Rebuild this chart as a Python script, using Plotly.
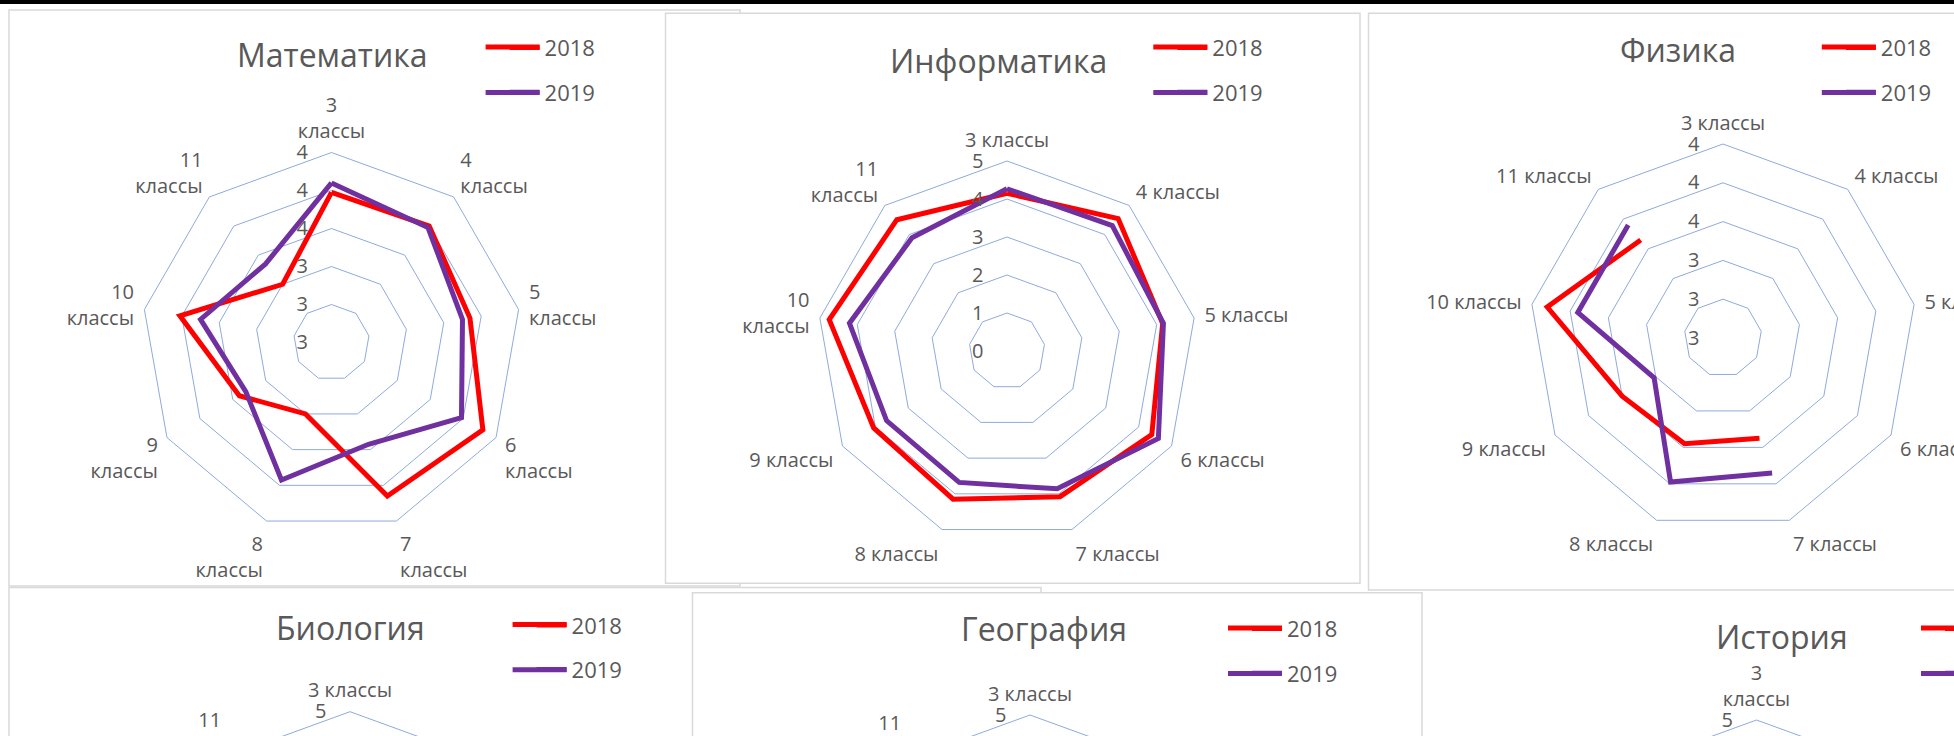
import plotly.graph_objects as go

# ---------------- data ----------------
categories = ["3 классы", "4 классы", "5 классы", "6 классы", "7 классы",
              "8 классы", "9 классы", "10 классы", "11 классы"]
years = ["2018", "2019"]
subjects = ["Математика", "Информатика", "Физика", "Биология", "География", "История"]

math_2018 = [3.79, 3.80, 3.74, 3.92, 3.86, 3.40, 3.56, 3.81, 3.40]
math_2019 = [3.84, 3.79, 3.70, 3.79, 3.57, 3.77, 3.52, 3.70, 3.54]
info_2018 = [4.15, 4.55, 4.16, 4.40, 4.08, 4.15, 4.05, 4.75, 4.51]
info_2019 = [4.27, 4.31, 4.18, 4.60, 3.86, 3.68, 3.66, 4.21, 3.89]
phys_2018 = [None, None, None, None, 3.55, 3.58, 3.60, 3.92, 3.66]
phys_2019 = [None, None, None, None, 3.74, 3.79, 3.41, 3.76, 3.76]
# lower row: the series lie below the visible part of the screenshot
bio_2018 = [None, None, None, None, None, None, None, None, None]
bio_2019 = [None, None, None, None, None, None, None, None, None]
geo_2018 = [None, None, None, None, None, None, None, None, None]
geo_2019 = [None, None, None, None, None, None, None, None, None]
hist_2018 = [None, None, None, None, None, None, None, None, None]
hist_2019 = [None, None, None, None, None, None, None, None, None]

math_ticks = [3.0, 3.2, 3.4, 3.6, 3.8, 4.0]
phys_ticks = [3.0, 3.2, 3.4, 3.6, 3.8, 4.0]
five_ticks = [0, 1, 2, 3, 4, 5]

# ---------------- style / layout ----------------
W, H = 1954, 1150
FONT = "Open Sans"
TEXT = "#595959"
GRID = "#8FAADC"
BORDER = "#D9D9D9"
COLORS = {"2018": "#FF0000", "2019": "#7030A0"}
LINE_W = 5
LEG_ROW_OFFSETS = [-1.2, 44.1]


def px_x(v):
    return v / W


def px_y(v):
    return 1 - v / H


charts = [
    dict(title=subjects[0], data=[math_2018, math_2019], ticks=math_ticks, fmt=".0f",
         wrap=set(categories), cx=331.5, cy=342.5, R=190,
         tx=332, ty=54.5, lx=539.6, ly=48.3),
    dict(title=subjects[1], data=[info_2018, info_2019], ticks=five_ticks, fmt="d",
         wrap={"10 классы", "11 классы"}, cx=1007, cy=351, R=190,
         tx=998, ty=60.8, lx=1207.3, ly=48.3),
    dict(title=subjects[2], data=[phys_2018, phys_2019], ticks=phys_ticks, fmt=".0f",
         wrap=set(), cx=1723, cy=338, R=194,
         tx=1678, ty=50, lx=1875.8, ly=48.3),
    dict(title=subjects[3], data=[bio_2018, bio_2019], ticks=five_ticks, fmt="d",
         wrap={"10 классы", "11 классы"}, cx=350, cy=901.7, R=190,
         tx=350, ty=627.5, lx=566.6, ly=625.7),
    dict(title=subjects[4], data=[geo_2018, geo_2019], ticks=five_ticks, fmt="d",
         wrap={"10 классы", "11 классы"}, cx=1030, cy=905, R=190,
         tx=1044, ty=628, lx=1282, ly=629.3),
    dict(title=subjects[5], data=[hist_2018, hist_2019], ticks=five_ticks, fmt="d",
         wrap={"3 классы"}, cx=1756.5, cy=910, R=190,
         tx=1782, ty=636, lx=1975, ly=629.3),
]

fig = go.Figure()
layout = dict(
    width=W, height=H, margin=dict(l=0, r=0, t=0, b=0, autoexpand=False),
    paper_bgcolor="white", plot_bgcolor="white",
    font=dict(family=FONT, color=TEXT), showlegend=True,
)
annotations = []
legend_ext = []

for i, ch in enumerate(charts):
    pname = "polar" if i == 0 else f"polar{i + 1}"
    lname = "legend" if i == 0 else f"legend{i + 1}"
    for yr, vals in zip(years, ch["data"]):
        fig.add_trace(go.Scatterpolar(
            r=list(vals) + list(vals[:1]),
            theta=categories + categories[:1],
            mode="lines", name=yr, subplot=pname, legend=lname,
            legendgroup=f"{i}-{yr}", connectgaps=False,
            line=dict(color=COLORS[yr], width=LINE_W),
            hoverinfo="skip",
        ))
    ticktext = [c.replace(" ", "<br>") if c in ch["wrap"] else c for c in categories]
    layout[pname] = dict(
        domain=dict(x=[px_x(ch["cx"] - ch["R"]), px_x(ch["cx"] + ch["R"])],
                    y=[px_y(ch["cy"] + ch["R"]), px_y(ch["cy"] - ch["R"])]),
        bgcolor="rgba(0,0,0,0)",
        gridshape="linear",
        angularaxis=dict(
            type="category", categoryarray=categories, rotation=90,
            direction="clockwise", tickvals=categories, ticktext=ticktext,
            showgrid=False, showline=True, linecolor=GRID, linewidth=1,
            ticks="outside", ticklen=6, tickcolor="rgba(0,0,0,0)",
            tickfont=dict(family=FONT, size=20, color=TEXT),
        ),
        radialaxis=dict(
            range=[ch["ticks"][0], ch["ticks"][-1]], tickvals=ch["ticks"],
            tickformat=ch["fmt"], angle=90, side="counterclockwise", tickangle=90,
            showline=False, ticks="outside", ticklen=16, tickcolor="rgba(0,0,0,0)",
            gridcolor=GRID, gridwidth=1,
            tickfont=dict(family=FONT, size=20, color=TEXT),
        ),
    )
    layout[lname] = dict(
        x=px_x(ch["lx"] - 35), y=px_y(ch["ly"] - 21.5), xanchor="left", yanchor="top",
        bgcolor="rgba(0,0,0,0)", borderwidth=0, traceorder="grouped",
        tracegroupgap=13, itemwidth=30,
        font=dict(family=FONT, size=22, color=TEXT),
    )
    # the Excel legend keys are longer than Plotly's: draw the full-length key
    for k, yr in enumerate(years):
        yk = ch["ly"] + LEG_ROW_OFFSETS[k]
        legend_ext.append(dict(
            type="line", xref="paper", yref="paper", layer="above",
            x0=px_x(ch["lx"] - 54), x1=px_x(ch["lx"]), y0=px_y(yk), y1=px_y(yk),
            line=dict(color=COLORS[yr], width=LINE_W)))
    annotations.append(dict(
        text=ch["title"], x=px_x(ch["tx"]), y=px_y(ch["ty"]), xref="paper", yref="paper",
        xanchor="center", yanchor="middle", showarrow=False,
        font=dict(family=FONT, size=32, color=TEXT),
    ))

# chart-area frames of the screenshot (drawn in stacking order)
panels = [
    (9, 10, 740, 586),           # Математика
    (665.5, 13.3, 1360, 583.3),  # Информатика
    (1368.5, 13.3, 1990, 590),   # Физика
    (9, 587.5, 1041, 1300),      # Биология
    (692.5, 592.7, 1422, 1300),  # География
]
shapes = []
for x0, y0, x1, y1 in panels:
    shapes.append(dict(type="rect", xref="paper", yref="paper", layer="below",
                       x0=px_x(x0), x1=px_x(x1), y0=px_y(y1), y1=px_y(y0),
                       fillcolor="white", line=dict(color=BORDER, width=1.5)))
shapes.extend(legend_ext)
shapes.append(dict(type="rect", xref="paper", yref="paper", layer="above",
                   x0=0, x1=1, y0=px_y(4), y1=1, fillcolor="black", line=dict(width=0)))

layout["annotations"] = annotations
layout["shapes"] = shapes
fig.update_layout(**layout)

fig.write_html(
    "out.html",
    config={"displayModeBar": False},
    post_script="document.body.style.margin='0';"
                "document.body.style.overflow='hidden';"
                "document.documentElement.style.overflow='hidden';",
)
